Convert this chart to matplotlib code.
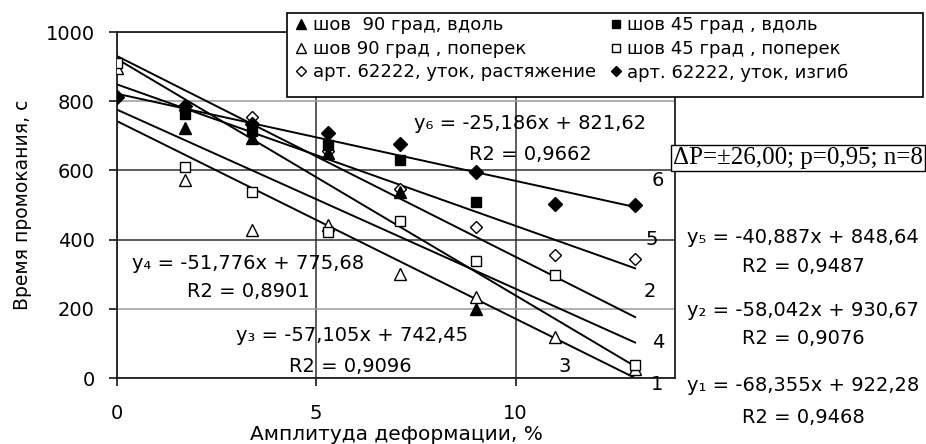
import numpy as np
import matplotlib
matplotlib.use('Agg')
import matplotlib.pyplot as plt
from matplotlib.patches import Rectangle

plt.rcParams['font.family'] = ['DejaVu Sans']

# amplitude of deformation, %
amp = [0, 1.7, 3.4, 5.3, 7.1, 9.0, 11.0, 13.0]
nan = np.nan

# water penetration time, s
tri_f = [nan, 722, 695, 650, 538, 200, nan, nan]    # шов 90 град, вдоль
sq_f = [nan, 762, 715, 673, 630, 509, nan, nan]     # шов 45 град, вдоль
tri_o = [895, 572, 428, 442, 300, 234, 118, 25]     # шов 90 град, поперек
sq_o = [910, 610, 537, 422, 454, 338, 298, 37]      # шов 45 град, поперек
dia_o = [nan, 775, 754, 655, 546, 437, 355, 344]    # растяжение
dia_f = [812, 785, 735, 708, 676, 596, 503, 500]    # изгиб

labels = ['шов  90 град, вдоль', 'шов 90 град , поперек',
          'арт. 62222, уток, растяжение', 'шов 45 град , вдоль',
          'шов 45 град , поперек', 'арт. 62222, уток, изгиб']

# trend lines y = k*x + b, numbered 1..6
k = [-68.355, -58.042, -57.105, -51.776, -40.887, -25.186]
b = [922.28, 930.67, 742.45, 775.68, 848.64, 821.62]
r2 = ['0,9468', '0,9076', '0,9096', '0,8901', '0,9487', '0,9662']
eq = ['y\u2081 = -68,355x + 922,28', 'y\u2082 = -58,042x + 930,67',
      'y\u2083 = -57,105x + 742,45', 'y\u2084 = -51,776x + 775,68',
      'y\u2085 = -40,887x + 848,64', 'y\u2086 = -25,186x + 821,62']
line_x = [0, 13]

fs = 14

fig = plt.figure(figsize=(9.26, 4.44), dpi=100)
ax = fig.add_axes([0.1263, 0.1486, 0.6026, 0.7793])

for i in range(6):
    xx = np.array(line_x)
    ax.plot(xx, k[i] * xx + b[i], color='black', lw=1.4, zorder=2)

ax.plot(amp, tri_o, ls='none', marker='^', ms=9, mfc='white', mec='black', mew=1.0, zorder=3, label=labels[1])
ax.plot(amp, sq_o, ls='none', marker='s', ms=7.5, mfc='white', mec='black', mew=1.0, zorder=3, label=labels[4])
ax.plot(amp, dia_o, ls='none', marker='D', ms=6.5, mfc='white', mec='black', mew=1.0, zorder=3, label=labels[2])
ax.plot(amp, tri_f, ls='none', marker='^', ms=9, color='black', zorder=4, label=labels[0])
ax.plot(amp, sq_f, ls='none', marker='s', ms=7.5, color='black', zorder=4, label=labels[3])
ax.plot(amp, dia_f, ls='none', marker='D', ms=7, color='black', zorder=4, label=labels[5])

ax.set_xlim(0, 14)
ax.set_ylim(0, 1000)
ax.set_xticks([0, 5, 10])
ax.set_yticks([0, 200, 400, 600, 800, 1000])
ax.tick_params(labelsize=fs, length=6, width=1.1, direction='out')
ax.tick_params(axis='y', pad=10)
ax.tick_params(axis='x', pad=13)
ax.grid(True, lw=1.1)
for t, g in zip(ax.get_yticks(), ax.get_ygridlines()):
    g.set_color('#9a9a9a' if t in (200, 800) else '#303030')
for g in ax.get_xgridlines():
    g.set_color('#303030')
for s in ax.spines.values():
    s.set_linewidth(1.3)
    s.set_color('#202020')

ax.set_xlabel('Амплитуда деформации, %', fontsize=14.5, labelpad=1)
ax.set_ylabel('Время промокания, с', fontsize=13.5, labelpad=10)

# equations inside the plot
ax.text(10.36, 737, eq[5], fontsize=fs, ha='center', va='center')
ax.text(10.36, 647, 'R2 = ' + r2[5], fontsize=fs, ha='center', va='center')
ax.text(3.29, 332, eq[3], fontsize=fs, ha='center', va='center')
ax.text(3.29, 249, 'R2 = ' + r2[3], fontsize=fs, ha='center', va='center')
ax.text(5.9, 124, eq[2], fontsize=fs, ha='center', va='center')
ax.text(5.85, 32, 'R2 = ' + r2[2], fontsize=fs, ha='center', va='center')

# line numbers
for txt, xx, yy in [('6', 13.57, 572), ('5', 13.42, 399), ('2', 13.37, 249),
                    ('4', 13.57, 104), ('3', 11.24, 32), ('1', 13.55, -20)]:
    ax.text(xx, yy, txt, fontsize=fs, ha='center', va='center', clip_on=False)

# equations to the right
for txt, yy in [(eq[4], 237), ('R2 = ' + r2[4], 267), (eq[1], 310),
                ('R2 = ' + r2[1], 338), (eq[0], 385), ('R2 = ' + r2[0], 417)]:
    fig.text(803 / 926, 1 - yy / 444, txt, fontsize=fs, ha='center', va='center')

fig.text(673 / 926, 1 - 158 / 444, 'ΔP=±26,00; p=0,95; n=8', fontsize=18,
         family=['Liberation Serif', 'DejaVu Serif'], ha='left', va='center',
         bbox=dict(boxstyle='square,pad=0.08', fc='white', ec='black', lw=1))

# legend box, wider than its content as in the original
box = Rectangle((287 / 926, 1 - 97 / 444), 636 / 926, 84 / 444, transform=fig.transFigure,
                fc='white', ec='black', lw=1.2, zorder=9)
fig.add_artist(box)

h, l = ax.get_legend_handles_labels()
order = [3, 0, 2, 4, 1, 5]
leg = fig.legend([h[i] for i in order], [l[i] for i in order], ncol=2,
                 loc='upper left', bbox_to_anchor=(290 / 926, 1 - 11 / 444),
                 fontsize=13, frameon=False, handlelength=0.6, handletextpad=0.35,
                 borderpad=0.3, borderaxespad=0, labelspacing=0.3,
                 columnspacing=0.8, markerscale=0.75)
leg.set_zorder(10)

fig.savefig('out.png', dpi=100)
